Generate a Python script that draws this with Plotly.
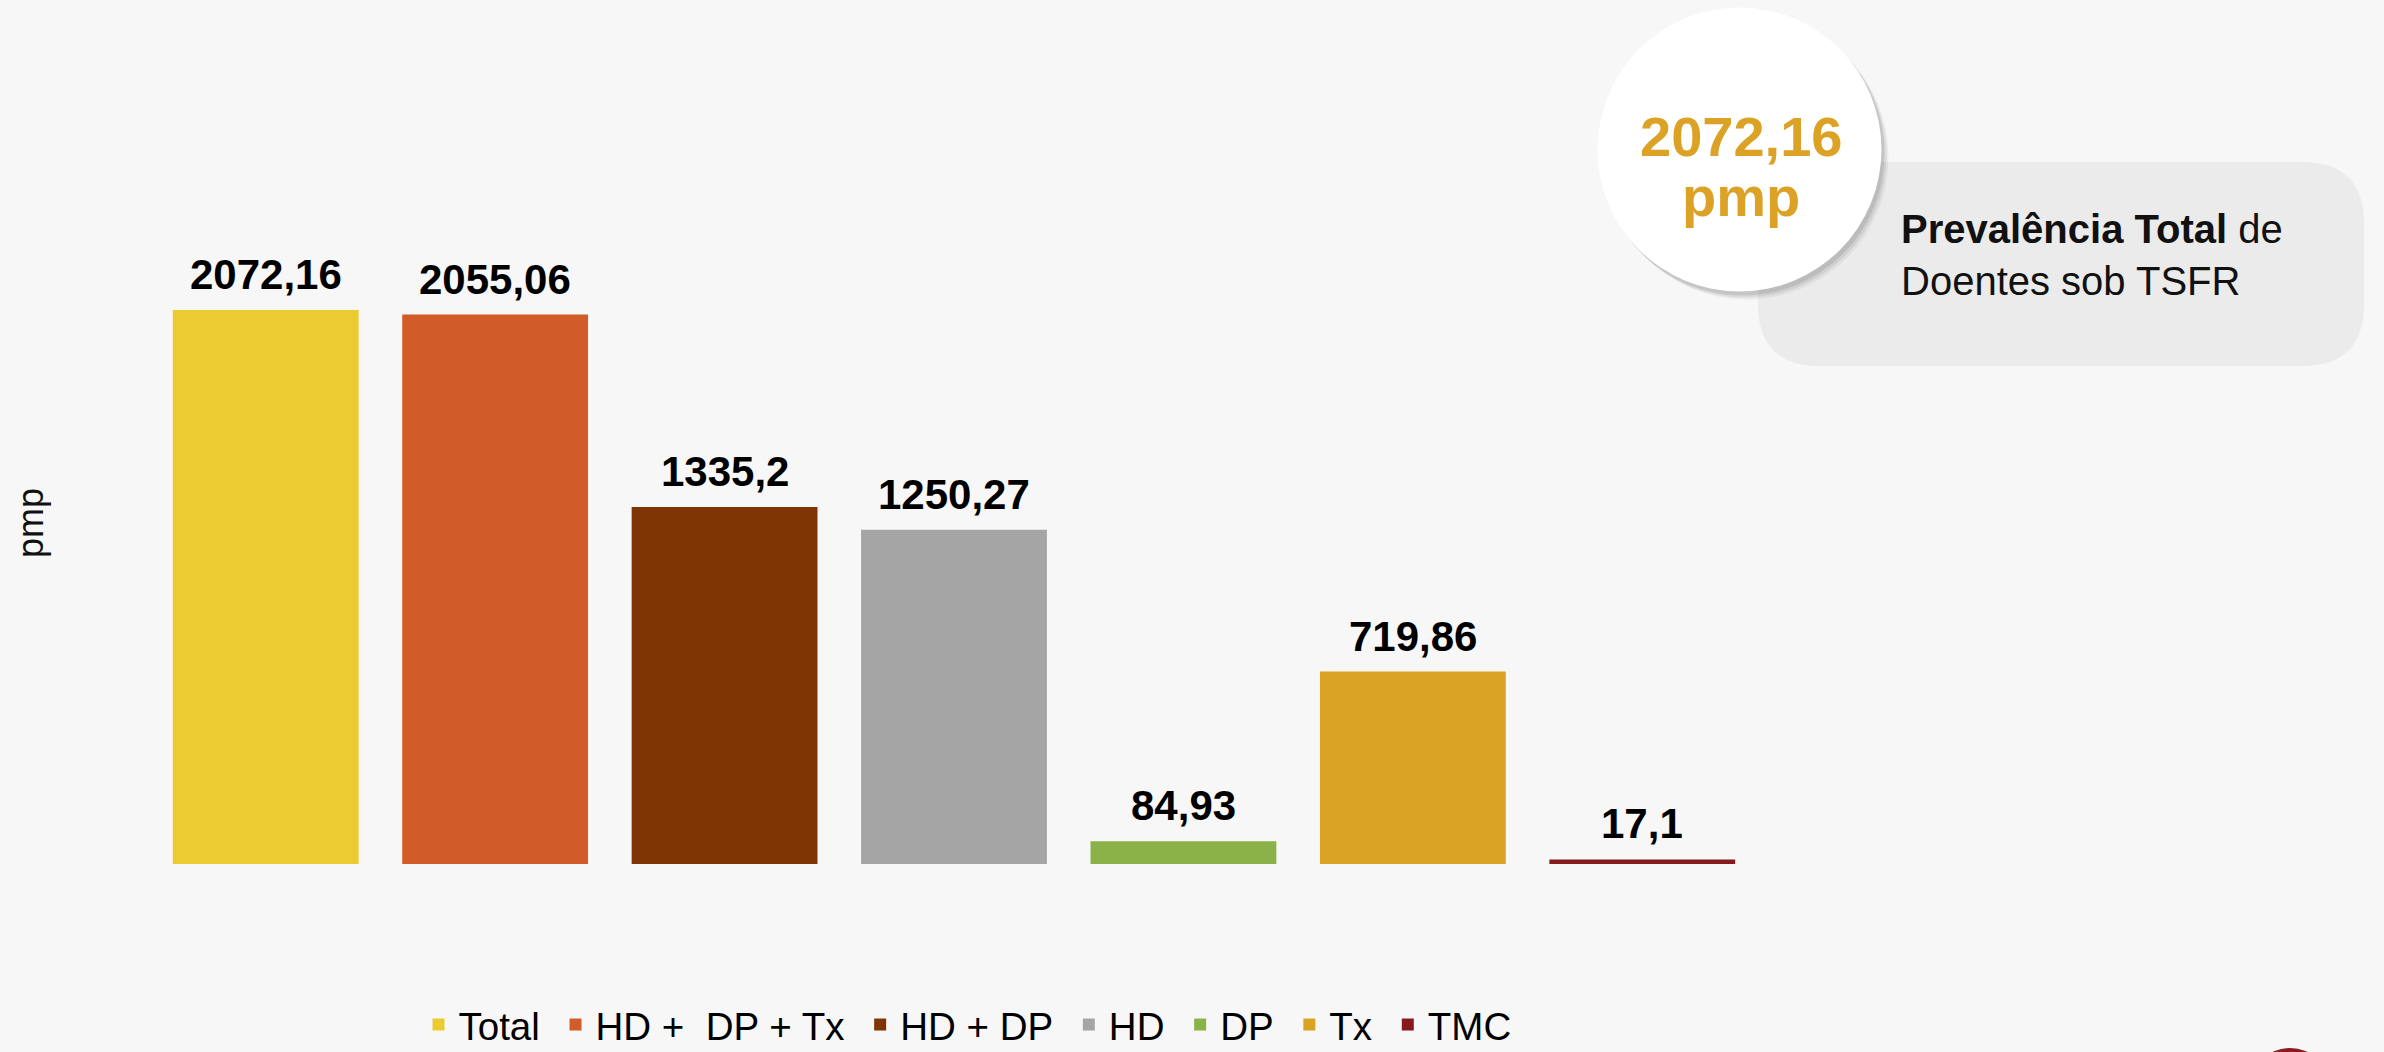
import plotly.graph_objects as go

# ---- data ----
categories = ["Total", "HD + \u00a0DP + Tx", "HD + DP", "HD", "DP", "Tx", "TMC"]
values = [2072.16, 2055.06, 1335.2, 1250.27, 84.93, 719.86, 17.1]
colors = ["#ECCB30", "#D15B29", "#7F3404", "#A5A5A5", "#8BB248", "#DBA324", "#861B1E"]
y_title = "pmp"
callout_unit = "pmp"
callout_text_bold = "Prevalência Total"
callout_text_rest = " de<br>Doentes sob TSFR"


def fmt(v):
    return str(v).replace(".", ",")


labels = [fmt(v) for v in values]

FONT = "Liberation Sans, Arial, sans-serif"
W, H = 2384, 1052
ML, MR, MT, MB = 151, 627, 20, 188
PW = W - ML - MR
PH = H - MT - MB
BASE = H - MB
SCALE = 0.26735  # px per unit
YMAX = PH / SCALE


def px(x):
    return (x - ML) / PW


def py(y):
    return (BASE - y) / PH


LEGEND_PAD = "\u00a0"

fig = go.Figure()
for cat, val, col in zip(categories, values, colors):
    fig.add_trace(go.Bar(
        x=[cat], y=[val], name=cat + LEGEND_PAD,
        marker=dict(color=col, line=dict(width=0)),
        width=0.81, hoverinfo="x+y",
    ))

annotations = []
for cat, val, lab in zip(categories, values, labels):
    annotations.append(dict(
        x=cat, y=val, xref="x", yref="y", text=lab, showarrow=False,
        yanchor="bottom", yshift=10,
        font=dict(family=FONT, size=42, color="#000000", weight="bold"),
    ))

# y title
annotations.append(dict(
    x=px(30), y=py(523), xref="paper", yref="paper", text=y_title,
    textangle=-90, showarrow=False, xanchor="center", yanchor="middle",
    font=dict(family=FONT, size=36, color="#111111"),
))

# callout texts
gold = "#DBA226"
annotations.append(dict(
    x=px(1741), y=py(136), xref="paper", yref="paper", text=labels[0],
    showarrow=False, xanchor="center", yanchor="middle",
    font=dict(family=FONT, size=56, color=gold, weight="bold"),
))
annotations.append(dict(
    x=px(1741), y=py(196), xref="paper", yref="paper", text=callout_unit,
    showarrow=False, xanchor="center", yanchor="middle",
    font=dict(family=FONT, size=56, color=gold, weight="bold"),
))
annotations.append(dict(
    x=px(1899), y=py(255), xref="paper", yref="paper",
    text="<b>" + callout_text_bold + "</b>" + callout_text_rest,
    showarrow=False, xanchor="left", yanchor="middle", align="left",
    font=dict(family=FONT, size=40, color="#111111"),
))

shapes = []
# rounded rect
x0, x1, y0, y1, r = 1758, 2364, 162, 366, 62
rx, ry = r / PW, r / PH
X0, X1, Y0, Y1 = px(x0), px(x1), py(y1), py(y0)
path = (f"M {X0+rx},{Y0} L {X1-rx},{Y0} Q {X1},{Y0} {X1},{Y0+ry} "
        f"L {X1},{Y1-ry} Q {X1},{Y1} {X1-rx},{Y1} "
        f"L {X0+rx},{Y1} Q {X0},{Y1} {X0},{Y1-ry} "
        f"L {X0},{Y0+ry} Q {X0},{Y0} {X0+rx},{Y0} Z")
shapes.append(dict(type="path", path=path, xref="paper", yref="paper",
                   fillcolor="#EBEBEB", line=dict(width=0), layer="below"))

# circle shadow + circle
cx, cy, cr = 1739.5, 149.5, 142
for off, op in [(7, 0.05), (5, 0.07), (3, 0.09)]:
    shapes.append(dict(type="circle", xref="paper", yref="paper",
                       x0=px(cx - cr + off), x1=px(cx + cr + off),
                       y0=py(cy + cr + off + 1), y1=py(cy - cr + off + 1),
                       fillcolor=f"rgba(0,0,0,{op})", line=dict(width=0)))
shapes.append(dict(type="circle", xref="paper", yref="paper",
                   x0=px(cx - cr), x1=px(cx + cr), y0=py(cy + cr), y1=py(cy - cr),
                   fillcolor="#FFFFFF", line=dict(width=0)))

# red circle bottom-right
rcx, rcy, rr = 2290, 1088, 40
shapes.append(dict(type="circle", xref="paper", yref="paper",
                   x0=px(rcx - rr), x1=px(rcx + rr), y0=py(rcy + rr), y1=py(rcy - rr),
                   fillcolor="#8C1B1F", line=dict(width=0)))

fig.update_layout(
    width=W, height=H,
    margin=dict(l=ML, r=MR, t=MT, b=MB, autoexpand=False),
    paper_bgcolor="#F7F7F7", plot_bgcolor="#F7F7F7",
    barmode="overlay",
    showlegend=True,
    legend=dict(orientation="h", x=px(973), xanchor="center", y=py(1025), yanchor="middle",
                font=dict(family=FONT, size=38.5, color="#000000"),
                bgcolor="rgba(0,0,0,0)", traceorder="normal"),
    xaxis=dict(showticklabels=False, showgrid=False, zeroline=False, showline=False,
               ticks="", range=[-0.5, len(categories) - 0.5], fixedrange=True),
    yaxis=dict(showticklabels=False, showgrid=False, zeroline=False, showline=False,
               ticks="", range=[0, YMAX], fixedrange=True),
    annotations=annotations,
    shapes=shapes,
)

fig.write_html(
    "out.html",
    config={"displayModeBar": False},
    post_script="document.body.style.margin='0';document.body.style.background='#F7F7F7';",
)
